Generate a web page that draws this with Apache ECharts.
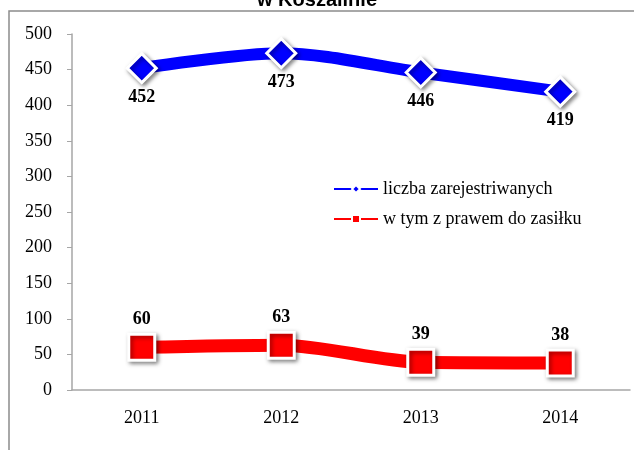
<!DOCTYPE html>
<html>
<head>
<meta charset="utf-8">
<script src="https://cdn.jsdelivr.net/npm/echarts@6/dist/echarts.min.js"></script>
<style>
  html, body { margin: 0; padding: 0; background: #fff; }
  #main { width: 634px; height: 450px; }
</style>
</head>
<body>
<div id="main"></div>
<script>
  // dane
  var lata = ['2011', '2012', '2013', '2014'];
  var zarejestrowani = [452, 473, 446, 419];
  var zZasilkiem = [60, 63, 39, 38];
  var nazwy = ['liczba zarejestriwanych', 'w tym z prawem do zasiłku'];

  var myChart = echarts.init(document.getElementById('main'));
  var serif = '"Liberation Serif", "DejaVu Serif", serif';

  var option = {
    animation: false,
    title: {
      text: 'w Koszalinie',
      left: 'center',
      top: -15,
      textStyle: { fontFamily: '"Liberation Sans", Arial, sans-serif', fontSize: 20, fontWeight: 'bold', color: '#000' }
    },
    graphic: [{
      type: 'rect',
      shape: { x: 9, y: 11, width: 700, height: 500 },
      style: { fill: 'none', stroke: '#8c8c8c', lineWidth: 1.5 },
      silent: true
    }],
    legend: {
      orient: 'vertical',
      left: 328,
      top: 175,
      itemGap: 12,
      itemWidth: 44,
      itemHeight: 10,
      textStyle: { fontFamily: serif, fontSize: 18, color: '#000' },
      data: nazwy
    },
    grid: { left: 72, right: 4, top: 34, bottom: 60 },
    xAxis: {
      type: 'category',
      data: lata,
      boundaryGap: true,
      axisLine: { lineStyle: { color: '#a6a6a6', width: 1.5 } },
      axisTick: { length: 5, lineStyle: { color: '#a6a6a6' } },
      axisLabel: { fontFamily: serif, fontSize: 18, color: '#000', margin: 19 }
    },
    yAxis: {
      type: 'value',
      min: 0,
      max: 500,
      interval: 50,
      splitLine: { show: false },
      axisLine: { show: true, lineStyle: { color: '#a6a6a6', width: 1.5 } },
      axisTick: { show: true, length: 5, lineStyle: { color: '#a6a6a6' } },
      axisLabel: { fontFamily: serif, fontSize: 18, color: '#000', margin: 20 }
    },
    series: [{
      name: nazwy[0],
      type: 'line',
      data: zarejestrowani,
      smooth: 0.3,
      symbol: 'diamond',
      symbolSize: 29,
      lineStyle: { color: '#0000ff', width: 12 },
      itemStyle: {
        color: '#0000ff', borderColor: '#fff', borderWidth: 3,
        shadowColor: 'rgba(0,0,0,0.45)', shadowBlur: 4, shadowOffsetX: 2, shadowOffsetY: 2
      },
      label: {
        show: true, position: 'bottom', distance: 4,
        fontFamily: serif, fontSize: 18, fontWeight: 'bold', color: '#000'
      }
    }, {
      name: nazwy[1],
      type: 'line',
      data: zZasilkiem,
      smooth: 0.3,
      symbol: 'rect',
      symbolSize: 26,
      lineStyle: { color: '#ff0000', width: 13 },
      itemStyle: {
        color: '#ff0000', borderColor: '#fff', borderWidth: 3,
        shadowColor: 'rgba(0,0,0,0.45)', shadowBlur: 4, shadowOffsetX: 2, shadowOffsetY: 2
      },
      label: {
        show: true, position: 'top', distance: 4,
        fontFamily: serif, fontSize: 18, fontWeight: 'bold', color: '#000'
      }
    }]
  };

  myChart.setOption(option);
</script>
</body>
</html>
